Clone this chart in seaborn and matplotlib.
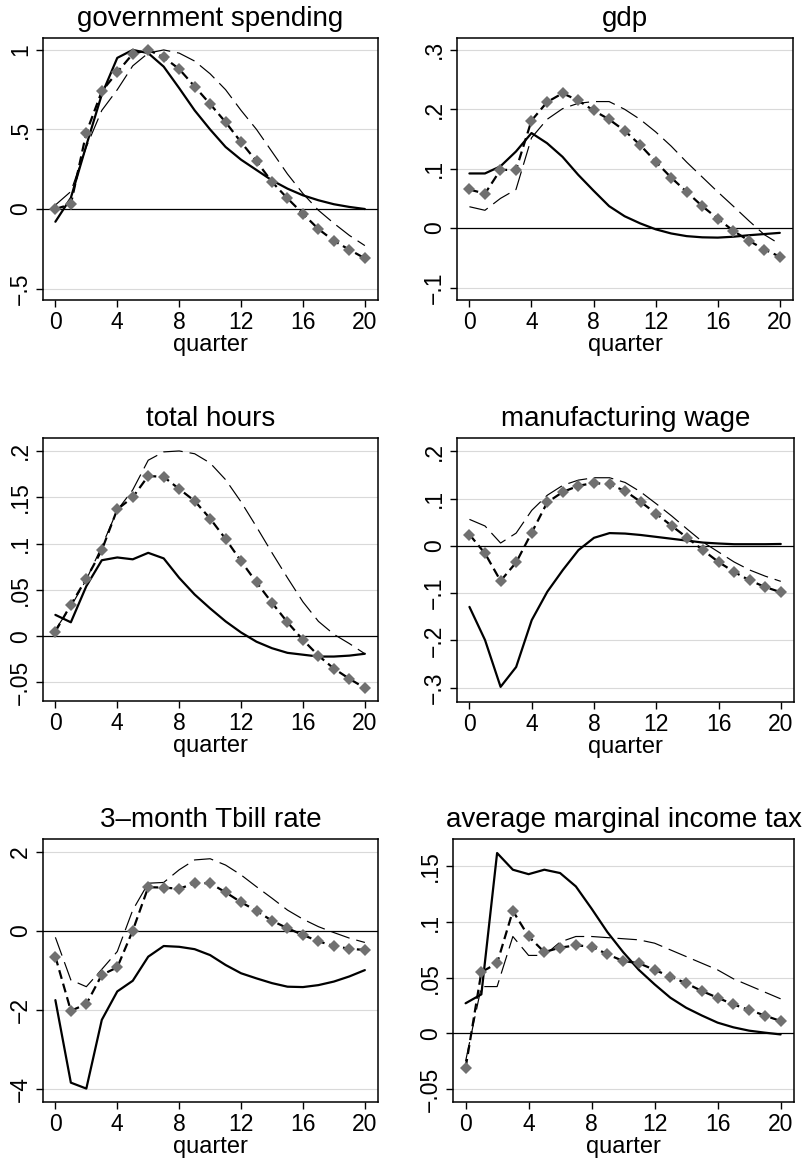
import matplotlib
matplotlib.use("Agg")
import matplotlib.pyplot as plt
import seaborn as sns

# ---------------------------------------------------------------------------
# Impulse responses over 20 quarters: three estimates per variable
#   solid     : first specification
#   long dash : second specification
#   diamonds  : third specification (short dashes with gray diamonds)
# ---------------------------------------------------------------------------
quarters = list(range(21))
xticks = [0, 4, 8, 12, 16, 20]

# government spending
gov_solid = [-0.08, 0.07, 0.40, 0.72, 0.95, 1.00, 0.98, 0.895, 0.76, 0.62, 0.50,
             0.39, 0.31, 0.245, 0.18, 0.128, 0.086, 0.055, 0.03, 0.013, 0.0]
gov_longdash = [0.025, 0.11, 0.39, 0.62, 0.75, 0.90, 0.98, 1.00, 0.98, 0.93, 0.85,
                0.75, 0.62, 0.50, 0.36, 0.22, 0.097, -0.008, -0.09, -0.166, -0.23]
gov_diamond = [0.0, 0.03, 0.48, 0.74, 0.86, 0.975, 1.00, 0.954, 0.88, 0.77, 0.66,
               0.546, 0.42, 0.30, 0.17, 0.067, -0.03, -0.126, -0.20, -0.256, -0.31]
gov_ticks = [-0.5, 0, 0.5, 1]
gov_ticklabels = ["\u2212.5", "0", ".5", "1"]

# gdp
gdp_solid = [0.092, 0.092, 0.104, 0.129, 0.16, 0.143, 0.12, 0.09, 0.063, 0.037, 0.02,
             0.008, -0.002, -0.009, -0.0135, -0.0155, -0.016, -0.0145, -0.012, -0.01, -0.008]
gdp_longdash = [0.036, 0.03, 0.05, 0.065, 0.152, 0.183, 0.201, 0.21, 0.213, 0.213, 0.20,
                0.183, 0.162, 0.138, 0.111, 0.086, 0.061, 0.037, 0.0125, -0.011, -0.027]
gdp_diamond = [0.065, 0.058, 0.098, 0.098, 0.181, 0.212, 0.227, 0.215, 0.198, 0.183, 0.164,
               0.14, 0.112, 0.085, 0.061, 0.037, 0.016, -0.0045, -0.021, -0.036, -0.048]
gdp_ticks = [-0.1, 0, 0.1, 0.2, 0.3]
gdp_ticklabels = ["\u2212.1", "0", ".1", ".2", ".3"]

# total hours
hrs_solid = [0.023, 0.015, 0.054, 0.082, 0.085, 0.083, 0.09, 0.084, 0.063, 0.045, 0.03,
             0.016, 0.004, -0.006, -0.013, -0.018, -0.02, -0.022, -0.022, -0.021, -0.019]
hrs_longdash = [0.007, 0.032, 0.061, 0.097, 0.136, 0.158, 0.19, 0.199, 0.20, 0.197, 0.187,
                0.169, 0.145, 0.118, 0.09, 0.063, 0.037, 0.016, 0.002, -0.008, -0.019]
hrs_diamond = [0.005, 0.034, 0.062, 0.093, 0.137, 0.15, 0.173, 0.172, 0.159, 0.146, 0.127,
               0.105, 0.081, 0.058, 0.036, 0.015, -0.004, -0.021, -0.035, -0.046, -0.056]
hrs_ticks = [-0.05, 0, 0.05, 0.1, 0.15, 0.2]
hrs_ticklabels = ["\u2212.05", "0", ".05", ".1", ".15", ".2"]

# manufacturing wage
wage_solid = [-0.129, -0.199, -0.298, -0.256, -0.157, -0.097, -0.051, -0.009, 0.017, 0.027, 0.026,
              0.023, 0.019, 0.015, 0.011, 0.007, 0.005, 0.0035, 0.0035, 0.0035, 0.004]
wage_longdash = [0.056, 0.042, 0.006, 0.027, 0.075, 0.107, 0.128, 0.139, 0.144, 0.144, 0.134,
                 0.114, 0.089, 0.063, 0.035, 0.008, -0.013, -0.034, -0.051, -0.064, -0.075]
wage_diamond = [0.024, -0.016, -0.074, -0.035, 0.028, 0.092, 0.114, 0.127, 0.133, 0.13, 0.116,
                0.093, 0.068, 0.042, 0.017, -0.009, -0.034, -0.055, -0.073, -0.087, -0.098]
wage_ticks = [-0.3, -0.2, -0.1, 0, 0.1, 0.2]
wage_ticklabels = ["\u2212.3", "\u2212.2", "\u2212.1", "0", ".1", ".2"]

# 3-month Tbill rate
tbill_solid = [-1.76, -3.85, -4.0, -2.26, -1.54, -1.27, -0.66, -0.39, -0.41, -0.47, -0.62,
               -0.87, -1.08, -1.21, -1.33, -1.42, -1.43, -1.38, -1.29, -1.16, -1.0]
tbill_longdash = [-0.17, -1.25, -1.42, -0.98, -0.53, 0.52, 1.2, 1.22, 1.54, 1.79, 1.82,
                  1.66, 1.41, 1.11, 0.82, 0.52, 0.29, 0.1, -0.05, -0.19, -0.3]
tbill_diamond = [-0.66, -2.03, -1.86, -1.12, -0.93, 0.0, 1.1, 1.09, 1.06, 1.2, 1.2,
                 0.97, 0.72, 0.5, 0.25, 0.06, -0.11, -0.27, -0.39, -0.46, -0.49]
tbill_ticks = [-4, -2, 0, 2]
tbill_ticklabels = ["\u22124", "\u22122", "0", "2"]

# average marginal income tax
tax_solid = [0.027, 0.035, 0.162, 0.147, 0.143, 0.147, 0.144, 0.132, 0.112, 0.091, 0.073,
             0.057, 0.044, 0.032, 0.023, 0.016, 0.0096, 0.0054, 0.0024, 0.0006, -0.001]
tax_longdash = [-0.025, 0.042, 0.042, 0.087, 0.07, 0.07, 0.082, 0.087, 0.087, 0.086, 0.085,
                0.084, 0.081, 0.075, 0.069, 0.063, 0.057, 0.049, 0.043, 0.037, 0.031]
tax_diamond = [-0.031, 0.055, 0.063, 0.11, 0.087, 0.073, 0.077, 0.079, 0.078, 0.071, 0.065,
               0.063, 0.057, 0.051, 0.045, 0.038, 0.032, 0.026, 0.021, 0.016, 0.011]
tax_ticks = [-0.05, 0, 0.05, 0.1, 0.15]
tax_ticklabels = ["\u2212.05", "0", ".05", ".1", ".15"]

titles = ["government spending", "gdp", "total hours", "manufacturing wage",
          "3\u2013month Tbill rate", "average marginal income tax"]

panels = [
    (gov_solid, gov_longdash, gov_diamond, gov_ticks, gov_ticklabels, (-0.572, 1.075)),
    (gdp_solid, gdp_longdash, gdp_diamond, gdp_ticks, gdp_ticklabels, (-0.121, 0.320)),
    (hrs_solid, hrs_longdash, hrs_diamond, hrs_ticks, hrs_ticklabels, (-0.070, 0.214)),
    (wage_solid, wage_longdash, wage_diamond, wage_ticks, wage_ticklabels, (-0.330, 0.228)),
    (tbill_solid, tbill_longdash, tbill_diamond, tbill_ticks, tbill_ticklabels, (-4.34, 2.32)),
    (tax_solid, tax_longdash, tax_diamond, tax_ticks, tax_ticklabels, (-0.0617, 0.1746)),
]

# axes boxes in pixels: left, top, right, bottom
boxes = [(43, 38, 378, 300), (457, 38, 793, 300),
         (43, 438, 378, 701), (457, 438, 794, 702),
         (43, 839, 378, 1102), (453, 839, 794, 1102)]

sns.set_style("white")
plt.rcParams["font.family"] = ["Liberation Sans", "DejaVu Sans"]
plt.rcParams["lines.scale_dashes"] = False
for key in ("text.color", "axes.labelcolor", "xtick.color", "ytick.color",
            "xtick.labelcolor", "ytick.labelcolor"):
    plt.rcParams[key] = "black"

W, H = 811, 1159
fig = plt.figure(figsize=(W / 100, H / 100), dpi=100)
fig.patch.set_facecolor("white")

for (solid, longdash, diamond, yt, ytl, ylim), title, (l, t, r, b) in zip(panels, titles, boxes):
    ax = fig.add_axes([l / W, 1 - b / H, (r - l) / W, (b - t) / H])
    ax.set_facecolor("white")

    # light horizontal grid at the y ticks, black reference line at zero
    for v in yt:
        if v != 0:
            ax.axhline(v, color="#d9d9d9", lw=0.8, zorder=0)
    ax.axhline(0, color="black", lw=0.9, zorder=1)

    sns.lineplot(x=quarters, y=solid, ax=ax, color="black", lw=1.6,
                 linestyle="-", zorder=3)
    sns.lineplot(x=quarters, y=longdash, ax=ax, color="black", lw=0.85,
                 linestyle=(0, (14, 5)), zorder=2)
    sns.lineplot(x=quarters, y=diamond, ax=ax, color="black", lw=1.6,
                 linestyle=(0, (6.5, 3.6)), marker="D", markersize=6.5,
                 markerfacecolor="#707070", markeredgecolor="#707070",
                 markeredgewidth=0, zorder=4)

    ax.set_xlim(-0.8, 20.85)
    ax.set_ylim(*ylim)
    ax.set_xticks(xticks)
    ax.set_xticklabels([str(v) for v in xticks])
    ax.set_yticks(yt)
    ax.set_yticklabels(ytl, rotation=90, va="center")

    ax.tick_params(axis="both", direction="out", length=5, width=1.0,
                   color="black", labelcolor="black", labelsize=16.5, pad=3,
                   left=True, bottom=True)
    for sp in ax.spines.values():
        sp.set_visible(True)
        sp.set_color("black")
        sp.set_linewidth(1.1)

    ax.set_xlabel("quarter", fontsize=17, labelpad=0, color="black")
    ax.set_ylabel("")
    ax.set_title(title, fontsize=20, pad=8.5, color="black")
    ax.grid(False)

fig.savefig("out.png", dpi=100, facecolor="white")
